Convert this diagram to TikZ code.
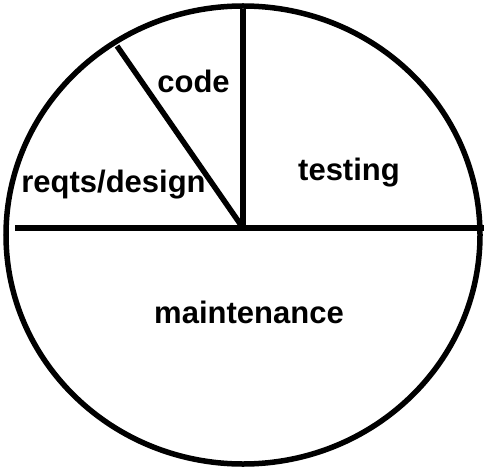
\documentclass[tikz,border=0pt]{standalone}
\usepackage{fontspec}
\setmainfont{Liberation Sans}
\begin{document}
\begin{tikzpicture}[x=1pt,y=-1pt,
  pieline/.style={line width=5.5pt,line cap=butt},
  lbl/.style={font=\fontsize{31}{36}\selectfont\bfseries,anchor=base,inner sep=0pt}]
\useasboundingbox (0,0) rectangle (486,470);
\coordinate (c) at (243,235);
\coordinate (hub) at (243,228);
\coordinate (hl) at (15,228);
\coordinate (hr) at (484,228);
\coordinate (vt) at (243,9);
\coordinate (dt) at (117,46);
\draw[pieline] (c) ellipse [x radius=237, y radius=229];
\draw[pieline] (hl) -- (hr);
\draw[pieline] (hub) -- (vt);
\draw[pieline] (hub) -- (dt);
\node[lbl] (code) at (193.5,93) {code};
\node[lbl] (reqts) at (113.5,192) {reqts/design};
\node[lbl] (testing) at (349,180) {testing};
\node[lbl] (maint) at (249,323) {maintenance};
\end{tikzpicture}
\end{document}
